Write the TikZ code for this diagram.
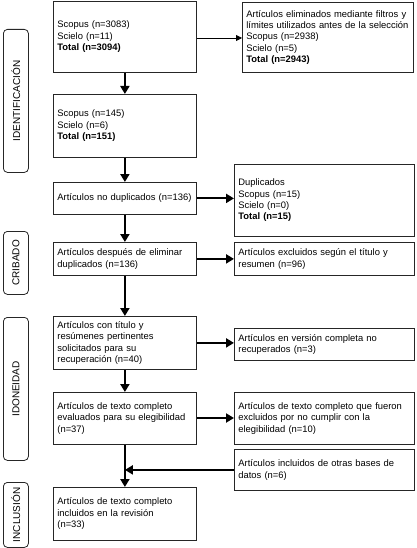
\documentclass[tikz,border=0pt]{standalone}
\usepackage{fontspec}
\setmainfont{Liberation Sans}
\usetikzlibrary{arrows.meta, positioning}

\tikzset{
    caja/.style={draw=black!85, line width=0.8pt, anchor=north west, align=left,
        inner xsep=4pt, inner ysep=0pt, font=\fontsize{9.4}{11.4}\selectfont},
    etapa/.style={draw=black!85, line width=0.8pt, rounded corners=4pt, anchor=north west,
        minimum width=25pt, inner sep=0pt},
    rotulo/.style={rotate=90, font=\fontsize{10}{12}\selectfont},
    flecha/.style={line width=2pt, -{Triangle[length=8pt,width=9pt]}},
    flechafina/.style={line width=0.8pt, -{Triangle[length=6pt,width=6pt]}}
}

\begin{document}
\begin{tikzpicture}[x=1pt, y=-1pt]
            \useasboundingbox (0,0) rectangle (416,548);
            % etapas
            \node[etapa, minimum height=143pt] (ident) at (3,29) {};
            \node[rotulo] at (ident.center) {IDENTIFICACIÓN};
            \node[etapa, minimum height=63pt] (crib) at (3,231) {};
            \node[rotulo] at (crib.center) {CRIBADO};
            \node[etapa, minimum height=143pt] (idon) at (3,317) {};
            \node[rotulo] at (idon.center) {IDONEIDAD};
            \node[etapa, minimum height=65pt] (incl) at (3,482) {};
            \node[rotulo] at (incl.center) {INCLUSIÓN};
            % columna izquierda
            \node[caja, text width=135pt, minimum height=71pt] (A) at (53,1)
                {Scopus (n=3083)\\Scielo (n=11)\\\textbf{Total (n=3094)}};
            \node[caja, text width=135pt, minimum height=63pt] (B) at (53,94)
                {Scopus (n=145)\\Scielo (n=6)\\\textbf{Total (n=151)}};
            \node[caja, text width=135pt, minimum height=32pt] (C) at (53,182)
                {Artículos no duplicados (n=136)};
            \node[caja, text width=135pt, minimum height=33pt] (D) at (53,242)
                {Artículos después de eliminar\\duplicados (n=136)};
            \node[caja, text width=135pt, minimum height=53pt] (E) at (53,316)
                {Artículos con título y\\resúmenes pertinentes\\solicitados para su\\recuperación (n=40)};
            \node[caja, text width=135pt, minimum height=52pt] (F) at (53,392)
                {Artículos de texto completo\\evaluados para su elegibilidad\\(n=37)};
            \node[caja, text width=135pt, minimum height=53pt] (G) at (53,487)
                {Artículos de texto completo\\incluidos en la revisión\\(n=33)};
            % columna derecha
            \node[caja, text width=163pt, minimum height=70pt] (RA) at (242,2)
                {Artículos eliminados mediante filtros y\\límites utilizados antes de la selección\\Scopus (n=2938)\\Scielo (n=5)\\\textbf{Total (n=2943)}};
            \node[caja, text width=172pt, minimum height=72pt] (RC) at (234,164)
                {Duplicados\\Scopus (n=15)\\Scielo (n=0)\\\textbf{Total (n=15)}};
            \node[caja, text width=172pt, minimum height=33pt] (RD) at (234,242)
                {Artículos excluidos según el título y\\resumen (n=96)};
            \node[caja, text width=172pt, minimum height=32pt] (RE) at (234,328)
                {Artículos en versión completa no\\recuperados (n=3)};
            \node[caja, text width=172pt, minimum height=52pt] (RF) at (234,392)
                {Artículos de texto completo que fueron\\excluidos por no cumplir con la\\elegibilidad (n=10)};
            \node[caja, text width=172pt, minimum height=41pt] (RG) at (234,449)
                {Artículos incluidos de otras bases de\\datos (n=6)};
            % flechas
            \coordinate (J) at (G.north |- RG.west);
            \draw[flechafina] (A.east |- 0,38) -- (RA.west |- 0,38);
            \draw[flecha] (A) -- (B);
            \draw[flecha] (B) -- (C);
            \draw[flecha] (C) -- (D);
            \draw[flecha] (D) -- (E);
            \draw[flecha] (E) -- (F);
            \draw[flecha] (F) -- (G);
            \draw[flecha] (C.east) -- (C.east -| RC.west);
            \draw[flecha] (D) -- (RD);
            \draw[flecha] (E.east) -- (E.east -| RE.west);
            \draw[flecha] (F.east |- 0,418) -- (RF.west |- 0,418);
            \draw[flecha] (RG.west) -- (J);
\end{tikzpicture}
\end{document}
